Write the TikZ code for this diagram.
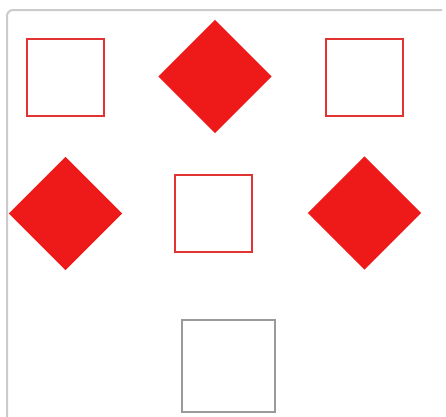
\documentclass[tikz,border=0pt]{standalone}
\definecolor{boxred}{HTML}{E23232}
\definecolor{fillred}{HTML}{EE1A1A}
\definecolor{boxgray}{HTML}{9A9A9A}
\definecolor{framegray}{HTML}{CBCBCB}

\tikzset{
    redbox/.style={
      draw=boxred, line width=2pt, fill=white,
      minimum size=77pt, inner sep=0pt
    },
    reddiamond/.style={
      fill=fillred, rotate=45,
      minimum size=80pt, inner sep=0pt
    },
    graybox/.style={
      draw=boxgray, line width=2pt,
      minimum width=93pt, minimum height=92pt, inner sep=0pt
    }
  }

\begin{document}
\begin{tikzpicture}[x=1pt,y=-1pt]
    \useasboundingbox (0,0) rectangle (446,416);

    % frame
    \draw[framegray, line width=2pt, rounded corners=6pt] (7,420) -- (7,10) -- (442,10);

    % top row
    \node[redbox] (sqA) at (65.5,77) {};
    \node[reddiamond] (dmA) at (215,76.5) {};
    \node[redbox] (sqB) at (364.5,77) {};

    % middle row
    \node[reddiamond] (dmB) at (65.5,213.5) {};
    \node[redbox] (sqC) at (213.5,213.5) {};
    \node[reddiamond] (dmC) at (364.5,213) {};

    % bottom
    \node[graybox] (sqD) at (228,366) {};

  \end{tikzpicture}
\end{document}
